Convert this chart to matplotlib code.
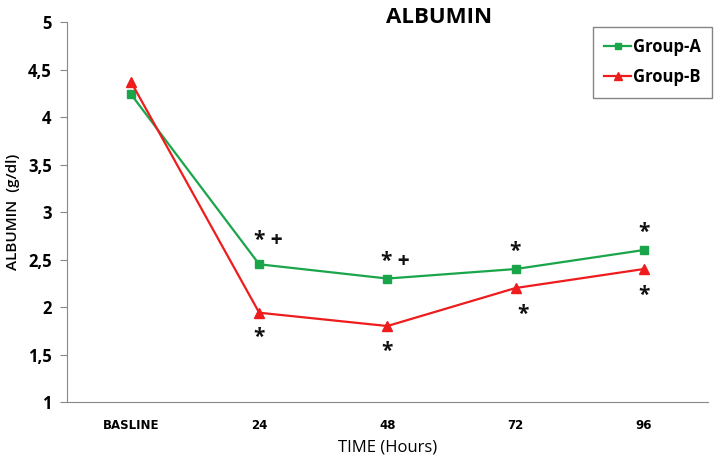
import numpy as np
from matplotlib import pyplot as plt

categories = ["BASLINE", "24", "48", "72", "96"]
group_a = [4.24, 2.45, 2.30, 2.40, 2.60]
group_b = [4.37, 1.94, 1.80, 2.20, 2.40]

# significance marks: (category index, y value, text)
marks = [
    (1, 2.70, "* +"), (1, 1.68, "*"),
    (2, 2.48, "* +"), (2, 1.53, "*"),
    (3, 2.58, "*"), (3, 1.92, "*"),
    (4, 2.78, "*"), (4, 2.12, "*"),
]
mark_dx = [0.07, 0, 0.06, 0, 0, 0.06, 0, 0]


def main():
    plt.rcParams['font.family'] = ['Open Sans', 'DejaVu Sans']
    fig = plt.figure(figsize=(7.2, 4.61), dpi=100)
    ax = fig.add_axes([0.093, 0.128, 0.89, 0.824])

    x = np.arange(len(categories))
    ax.plot(x, group_a, color="#1aa54b", marker="s", markersize=6, lw=1.6, label="Group-A")
    ax.plot(x, group_b, color="#ee1c1c", marker="^", markersize=7, lw=1.6, label="Group-B")

    for (i, y, t), dx in zip(marks, mark_dx):
        ax.text(i + dx, y, t, ha="center", va="center", fontsize=15,
                fontweight="bold", color="#111111")

    ax.set_xlim(-0.5, 4.5)
    ax.set_ylim(1, 5)
    ax.set_xticks(x)
    ax.set_xticklabels(categories, fontsize=8.5, fontweight="bold", family="DejaVu Sans")
    yt = np.arange(1, 5.01, 0.5)
    ax.set_yticks(yt)
    ax.set_yticklabels([("%g" % v).replace(".", ",") for v in yt], fontsize=12, fontweight="bold")
    ax.tick_params(axis="x", length=0, pad=12)
    ax.tick_params(axis="y", length=5, color="#888888", pad=6)
    for s in ["top", "right"]:
        ax.spines[s].set_visible(False)
    for s in ["left", "bottom"]:
        ax.spines[s].set_color("#888888")

    ax.set_title("ALBUMIN", fontsize=16, fontweight="bold", x=0.58, y=0.975)
    ax.set_xlabel("TIME (Hours)", fontsize=12, labelpad=6)
    ax.set_ylabel("ALBUMIN  (g/dl)", fontsize=11, fontweight="semibold", labelpad=6)

    leg = ax.legend(loc="upper right", bbox_to_anchor=(1.02, 1.01), fontsize=12, fancybox=False,
                    handlelength=1.6, handletextpad=0.1, borderpad=0.7, labelspacing=0.7,
                    markerscale=0.8)
    leg.get_frame().set_edgecolor("#666666")
    for t in leg.get_texts():
        t.set_fontweight("bold")

    fig.savefig("out.png")


if __name__ == "__main__":
    main()
